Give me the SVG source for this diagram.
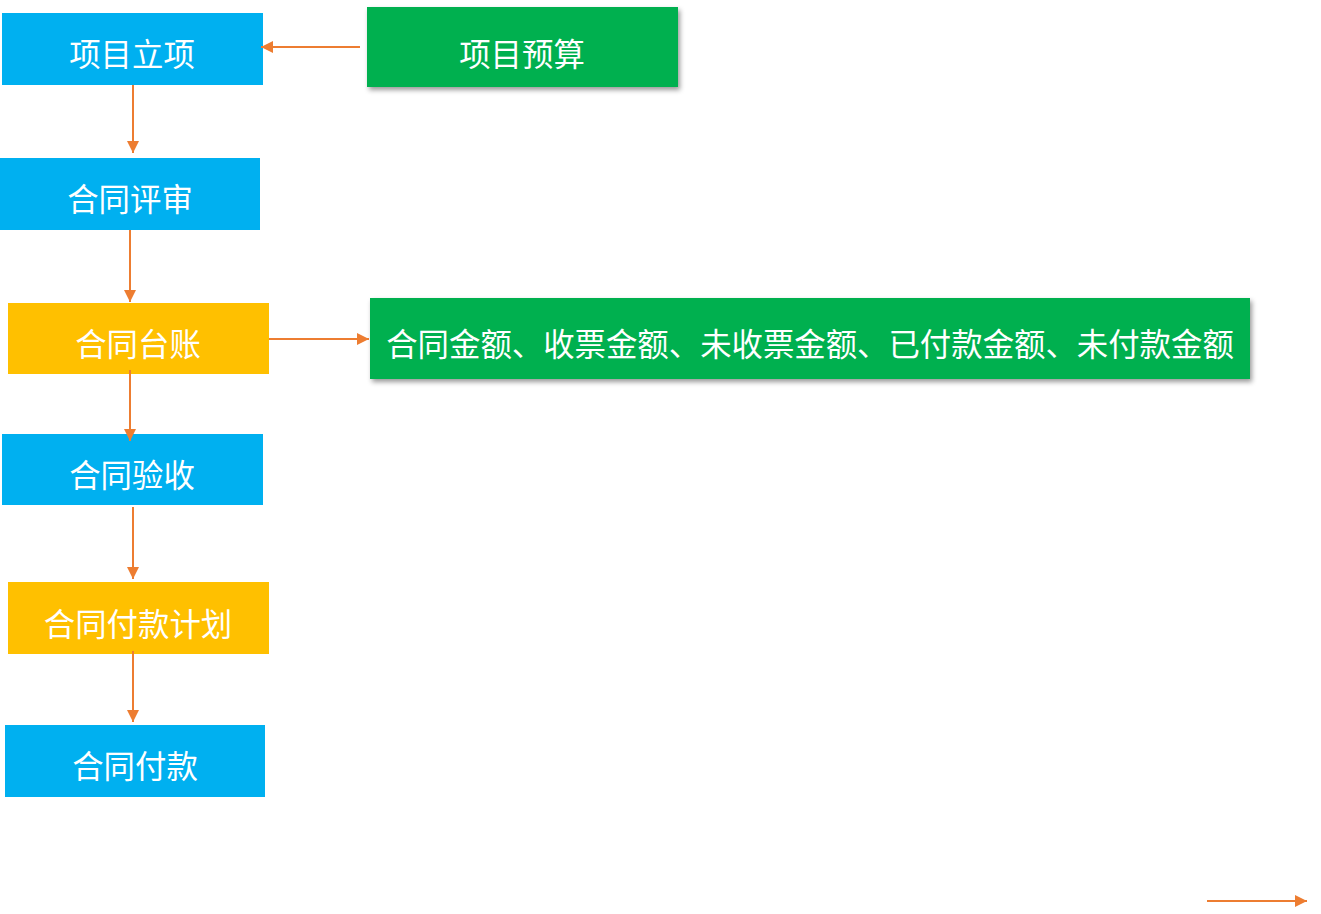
<svg xmlns="http://www.w3.org/2000/svg" width="1321" height="914" viewBox="0 0 1321 914">
<defs>
<style>
.blue{fill:#00B0F0}
.yellow{fill:#FFC000}
.green{fill:#00B050}
.t{fill:#fff;font-family:"Noto Sans CJK SC","Noto Sans CJK JP",sans-serif;font-size:31.4px;text-anchor:middle}
.c{stroke:#ED7D31;stroke-width:2;fill:none}
</style>
<marker id="ah2" viewBox="0 0 10 10" refX="10" refY="5" markerWidth="12" markerHeight="12" markerUnits="userSpaceOnUse" orient="auto">
<path d="M0,0 L10,5 L0,10 z" fill="#ED7D31"/>
</marker>
<filter id="sh" x="-10%" y="-20%" width="120%" height="150%">
<feDropShadow dx="2" dy="3" stdDeviation="2.5" flood-color="#000" flood-opacity="0.4"/>
</filter>
</defs>
<rect width="1321" height="914" fill="#fff"/>
<g id="n1"><rect class="blue" x="2" y="13" width="261" height="72"/><text class="t" x="132" y="66">项目立项</text></g>
<g id="n2"><rect class="green" x="367" y="7" width="311" height="80" filter="url(#sh)"/><text class="t" x="522" y="66">项目预算</text></g>
<g id="n3"><rect class="blue" x="0" y="158" width="260" height="72"/><text class="t" x="130" y="211">合同评审</text></g>
<g id="n4"><rect class="yellow" x="8" y="303" width="261" height="71"/><text class="t" x="138" y="356">合同台账</text></g>
<g id="n5"><rect class="green" x="370" y="298" width="880" height="81" filter="url(#sh)"/><text class="t" x="810" y="356">合同金额、收票金额、未收票金额、已付款金额、未付款金额</text></g>
<g id="n6"><rect class="blue" x="2" y="434" width="261" height="71"/><text class="t" x="132" y="487">合同验收</text></g>
<g id="n7"><rect class="yellow" x="8" y="582" width="261" height="72"/><text class="t" x="138" y="636">合同付款计划</text></g>
<g id="n8"><rect class="blue" x="5" y="725" width="260" height="72"/><text class="t" x="135" y="778">合同付款</text></g>
<g id="connectors">
<line class="c" x1="360" y1="47" x2="261" y2="47" marker-end="url(#ah2)"/>
<line class="c" x1="133" y1="85" x2="133" y2="153" marker-end="url(#ah2)"/>
<line class="c" x1="130" y1="230" x2="130" y2="302" marker-end="url(#ah2)"/>
<line class="c" x1="269" y1="339" x2="369" y2="339" marker-end="url(#ah2)"/>
<line class="c" x1="130" y1="370" x2="130" y2="441" marker-end="url(#ah2)"/>
<line class="c" x1="133" y1="507" x2="133" y2="579" marker-end="url(#ah2)"/>
<line class="c" x1="133" y1="651" x2="133" y2="722" marker-end="url(#ah2)"/>
<line class="c" x1="1207" y1="901" x2="1307" y2="901" marker-end="url(#ah2)"/>
</g>
</svg>
